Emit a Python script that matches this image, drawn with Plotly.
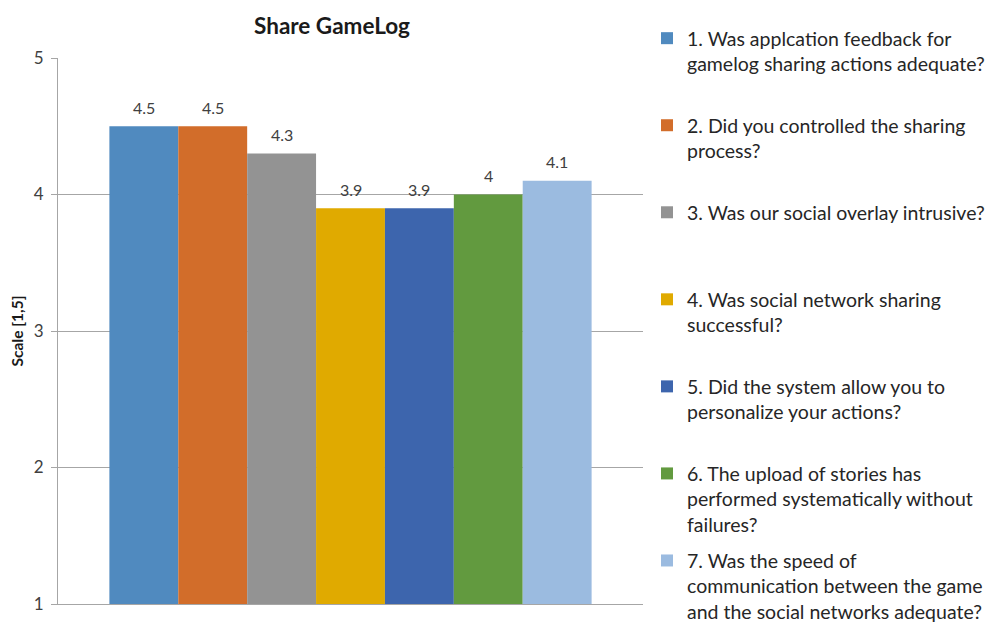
import plotly.graph_objects as go

# Survey answers for the "Share GameLog" section (scale 1..5)
questions = [
    "1. Was applcation feedback for<br>gamelog sharing actions adequate?",
    "2. Did you controlled the sharing<br>process?",
    "3. Was our social overlay intrusive?",
    "4. Was social network sharing<br>successful?",
    "5. Did the system allow you to<br>personalize your actions?",
    "6. The upload of stories has<br>performed systematically without<br>failures?",
    "7. Was the speed of<br>communication between the game<br>and the social networks adequate?",
]
scores = [4.5, 4.5, 4.3, 3.9, 3.9, 4.0, 4.1]
colors = ["#508ABF", "#D26D2A", "#939393", "#E0AA00", "#3D65AD", "#629A3F", "#9BBBE0"]
y_ticks = [1, 2, 3, 4, 5]

FONT = "Lato"
TEXT = "#404040"
GRID = "#A6A6A6"

fig = go.Figure()

# one bar per question, sitting side by side in a single cluster
for i, (q, v, c) in enumerate(zip(questions, scores, colors)):
    n_lines = q.count("<br>") + 1
    label = q + "<br> " * (3 - n_lines)  # keep every legend entry the same height
    fig.add_trace(go.Bar(
        x=[i], y=[v], width=1, name=label, legendgroup=str(i),
        marker=dict(color=c, line=dict(width=0)),
        hoverinfo="y",
    ))
    fig.add_annotation(
        x=i, y=v, text=f"{v:g}", showarrow=False, yshift=19,
        font=dict(family=FONT, size=16, color=TEXT),
    )

fig.update_layout(
    width=997, height=625,
    margin=dict(l=58, r=354, t=58, b=21, autoexpand=False),
    paper_bgcolor="white", plot_bgcolor="white",
    font=dict(family=FONT, color=TEXT),
    barmode="overlay",
    title=dict(
        text="<b>Share GameLog</b>", x=332 / 997, xanchor="center", xref="container",
        y=1 - 26 / 625, yanchor="middle", yref="container",
        font=dict(family=FONT, size=22.5, color="#1a1a1a"),
    ),
    showlegend=True,
    legend=dict(
        xref="container", yref="container",
        x=647 / 997, xanchor="left", y=1 - 19 / 625, yanchor="top",
        valign="top", tracegroupgap=8, traceorder="grouped",
        font=dict(family=FONT, size=19.5, color="#262626"),
        bgcolor="rgba(0,0,0,0)", maxheight=625,
    ),
    xaxis=dict(
        range=[-1.246, 7.246], showticklabels=False, ticks="", showgrid=False,
        zeroline=False, showline=True, linecolor=GRID, linewidth=1,
        fixedrange=True,
    ),
    yaxis=dict(
        range=[1, 5], tickvals=y_ticks, ticks="outside", ticklen=6, tickcolor=GRID,
        showline=True, linecolor=GRID, linewidth=1, showgrid=True, gridcolor=GRID,
        zeroline=False, tickfont=dict(family=FONT, size=17, color=TEXT),
        ticklabelstandoff=4,
        title=dict(text="<b>Scale [1,5]</b>", standoff=6,
                   font=dict(family=FONT, size=15.5, color="#1a1a1a")),
    ),
)

fig.write_html("out.html")
